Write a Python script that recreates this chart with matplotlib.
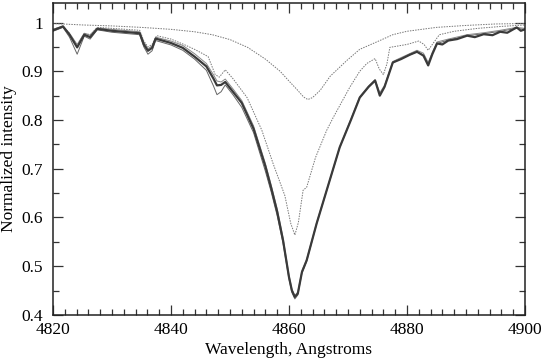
import matplotlib
matplotlib.use('Agg')
from matplotlib import pyplot as plt
from matplotlib.ticker import MultipleLocator

plt.rcParams['font.family'] = ['Liberation Serif', 'DejaVu Serif']

# observed spectrum (thick line)
obs_wl = [4820, 4821.7, 4822.8, 4824.1, 4825.3, 4826.3, 4827.5, 4830, 4834.7, 4835.4,
          4836.1, 4836.8, 4837.4, 4840, 4842, 4844, 4846, 4847.2, 4847.8, 4848.5,
          4849.2, 4850.5, 4852, 4854, 4856, 4857, 4858, 4859, 4860, 4860.5, 4861.0,
          4861.5, 4862.2, 4863.0, 4864.7, 4866.9, 4868.6, 4870.5, 4872, 4873.5, 4874.6,
          4875.4, 4876.2, 4877.6, 4879, 4880.5, 4881.7, 4882.8, 4883.6, 4884.3, 4885.1,
          4886, 4887, 4888.5, 4890.2, 4891.5, 4893, 4894.5, 4895.8, 4897, 4898.6,
          4899.3, 4900]
obs_flux = [0.984, 0.992, 0.975, 0.949, 0.975, 0.970, 0.987, 0.983, 0.978, 0.955,
            0.942, 0.948, 0.967, 0.958, 0.948, 0.930, 0.910, 0.885, 0.871, 0.872,
            0.878, 0.858, 0.835, 0.782, 0.705, 0.660, 0.612, 0.553, 0.478, 0.450, 0.437,
            0.444, 0.488, 0.512, 0.588, 0.676, 0.744, 0.800, 0.846, 0.868, 0.881,
            0.850, 0.868, 0.918, 0.925, 0.934, 0.940, 0.932, 0.912, 0.935, 0.957,
            0.955, 0.963, 0.966, 0.973, 0.970, 0.976, 0.974, 0.981, 0.979, 0.990,
            0.983, 0.986]

# model fits (thin solid lines)
fit_wl = [4820, 4821.7, 4822.8, 4824.1, 4825.3, 4826.3, 4827.5, 4830, 4834.7, 4835.4,
          4836.1, 4836.8, 4837.4, 4840, 4842, 4844, 4846, 4847.2, 4847.8, 4848.5,
          4849.2, 4850.5, 4852, 4854, 4856, 4857, 4858, 4859, 4860, 4860.5, 4861.0,
          4861.5, 4862.2, 4863.0, 4864.7, 4866.9, 4868.6, 4870.5, 4872, 4873.5, 4874.6,
          4875.4, 4876.2, 4877.6, 4879, 4881.7, 4882.8, 4883.6, 4884.3, 4885.1, 4887,
          4890.2, 4893, 4895.8, 4898.6, 4900]
fit_low = [0.982, 0.990, 0.970, 0.935, 0.972, 0.966, 0.985, 0.980, 0.975, 0.950,
           0.935, 0.942, 0.963, 0.954, 0.943, 0.925, 0.902, 0.870, 0.852, 0.858,
           0.872, 0.852, 0.826, 0.774, 0.695, 0.652, 0.604, 0.547, 0.474, 0.446, 0.433,
           0.441, 0.486, 0.510, 0.587, 0.675, 0.743, 0.800, 0.846, 0.868, 0.880,
           0.852, 0.868, 0.917, 0.926, 0.940, 0.933, 0.915, 0.936, 0.957, 0.964,
           0.973, 0.977, 0.982, 0.988, 0.986]
fit_high = [0.986, 0.993, 0.978, 0.955, 0.978, 0.974, 0.989, 0.986, 0.981, 0.960,
            0.946, 0.952, 0.970, 0.962, 0.953, 0.936, 0.916, 0.893, 0.880, 0.878,
            0.884, 0.864, 0.840, 0.788, 0.711, 0.666, 0.618, 0.558, 0.482, 0.453, 0.440,
            0.447, 0.491, 0.514, 0.590, 0.677, 0.745, 0.802, 0.848, 0.870, 0.883,
            0.856, 0.871, 0.920, 0.928, 0.943, 0.937, 0.918, 0.939, 0.960, 0.966,
            0.975, 0.979, 0.984, 0.990, 0.988]

# dotted profile with core 0.56
mid_wl = [4820, 4821.7, 4822.8, 4824.1, 4825.3, 4826.3, 4827.5, 4830, 4834.7, 4835.4,
          4836.1, 4836.8, 4837.6, 4840, 4842, 4844, 4845.4, 4846.3, 4847.5, 4848.2,
          4849.2, 4850.5, 4852.9, 4855.4, 4857.3, 4859.3, 4860.3, 4861.0, 4861.6, 4862.4,
          4863.0, 4864.5, 4866.4, 4867.5, 4870.3, 4872, 4873.2, 4874.6, 4875.3, 4876.0,
          4876.6, 4877.1, 4880, 4882.0, 4882.9, 4883.6, 4884.3, 4885.5, 4888, 4892,
          4896, 4900]
mid_flux = [0.986, 0.992, 0.978, 0.952, 0.978, 0.975, 0.990, 0.988, 0.984, 0.962,
            0.950, 0.955, 0.973, 0.966, 0.956, 0.945, 0.936, 0.930, 0.893, 0.888,
            0.903, 0.885, 0.846, 0.779, 0.711, 0.645, 0.588, 0.564, 0.590, 0.656,
            0.662, 0.723, 0.779, 0.805, 0.867, 0.900, 0.916, 0.926, 0.905, 0.893,
            0.915, 0.949, 0.955, 0.962, 0.955, 0.943, 0.955, 0.975, 0.982, 0.988,
            0.992, 0.995]

# broad dotted profile with core 0.84
top_wl = [4820, 4825, 4830, 4835, 4840, 4844, 4847, 4850, 4853, 4856, 4858.5, 4860,
          4861.4, 4862.5, 4863.2, 4864, 4865.3, 4867, 4869.8, 4872, 4875.4, 4877.6,
          4880, 4885, 4890, 4895, 4900]
top_flux = [0.998, 0.995, 0.993, 0.990, 0.986, 0.981, 0.975, 0.965, 0.949, 0.925, 0.900,
            0.880, 0.862, 0.847, 0.842, 0.846, 0.861, 0.890, 0.922, 0.945, 0.963, 0.975,
            0.982, 0.990, 0.994, 0.997, 0.998]

fig = plt.figure(figsize=(5.45, 3.59), dpi=100)
ax = fig.add_axes([0.0972, 0.1226, 0.866, 0.869])

ax.plot(top_wl, top_flux, color='#777777', lw=0.7, linestyle=(0, (1.5, 1.2)))
ax.plot(mid_wl, mid_flux, color='#777777', lw=0.7, linestyle=(0, (1.5, 1.2)))
ax.plot(fit_wl, fit_low, color='#666666', lw=0.7)
ax.plot(fit_wl, fit_high, color='#888888', lw=0.7)
ax.plot(obs_wl, obs_flux, color='#3a3a3a', lw=1.6)

ax.set_xlim(4820, 4900)
ax.set_ylim(0.4, 1.04)
ax.xaxis.set_major_locator(MultipleLocator(20))
ax.xaxis.set_minor_locator(MultipleLocator(2))
ax.yaxis.set_minor_locator(MultipleLocator(0.05))
ax.set_yticks([0.4, 0.5, 0.6, 0.7, 0.8, 0.9, 1.0])
ax.set_yticklabels(['0.4', '0.5', '0.6', '0.7', '0.8', '0.9', '1'])

ax.tick_params(which='both', direction='in', top=True, right=True, labelsize=12.5,
               color='#333333', width=0.9)
ax.tick_params(which='major', length=7)
ax.tick_params(which='minor', length=4)
ax.tick_params(axis='x', which='major', pad=5)
ax.tick_params(axis='y', which='major', pad=7)
for s in ax.spines.values():
    s.set_linewidth(1.1)
    s.set_color('#222222')

ax.set_xlabel('Wavelength, Angstroms', fontsize=12.5, labelpad=3)
ax.set_ylabel('Normalized intensity', fontsize=12.5, labelpad=3)

plt.savefig('out.png', dpi=100)
